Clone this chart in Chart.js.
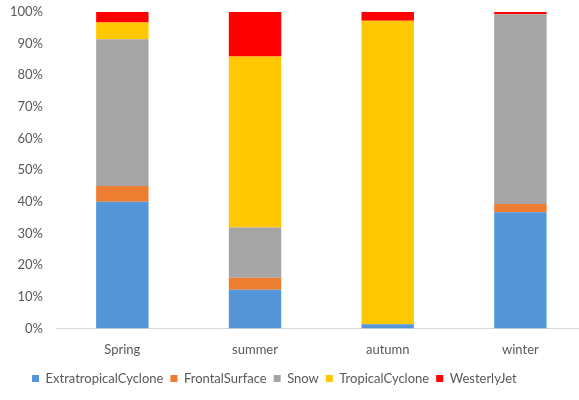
<!DOCTYPE html>
<html lang="en">
<head>
  <meta charset="UTF-8">
  <title>Seasonal share by weather type</title>
  <script src="https://cdn.jsdelivr.net/npm/chart.js"></script>
  <style>
    html, body {
      margin: 0;
      padding: 0;
      background: #ffffff;
      overflow: hidden;
    }
    .chart-container {
      width: 600px;
      height: 400px;
    }
  </style>
</head>
<body>
  <div class="chart-container">
    <canvas id="seasonChart"></canvas>
  </div>

  <script>
    const seasons = ['Spring', 'summer', 'autumn', 'winter'];

    // percent of each season
    const extratropicalCyclone = [40.0, 12.2, 1.3, 36.7];
    const frontalSurface       = [5.0, 3.8, 0, 2.6];
    const snow                 = [46.4, 15.9, 0, 60.0];
    const tropicalCyclone      = [5.3, 54.0, 95.9, 0];
    const westerlyJet          = [3.3, 14.1, 2.8, 0.7];

    const yTicks = [0, 10, 20, 30, 40, 50, 60, 70, 80, 90, 100];

    function series(label, values, color) {
      return {
        label: label,
        data: values.map((v, i) => ({ x: i, y: v })),
        backgroundColor: color,
        borderWidth: 0,
        barPercentage: 1,
        categoryPercentage: 0.395
      };
    }

    // nudge the legend row to the right, like the original
    const legendShift = {
      id: 'legendShift',
      afterLayout(chart) {
        chart.legend.left += 15;
      }
    };

    Chart.defaults.font.family = 'Lato, "Open Sans", sans-serif';
    Chart.defaults.color = '#595959';

    new Chart(document.getElementById('seasonChart'), {
      type: 'bar',
      data: {
        datasets: [
          series('ExtratropicalCyclone', extratropicalCyclone, '#5596d8'),
          series('FrontalSurface', frontalSurface, '#ed7d31'),
          series('Snow', snow, '#a5a5a5'),
          series('TropicalCyclone', tropicalCyclone, '#ffc800'),
          series('WesterlyJet', westerlyJet, '#ff0000')
        ]
      },
      plugins: [legendShift],
      options: {
        responsive: true,
        maintainAspectRatio: false,
        animation: false,
        layout: { padding: { left: 10, top: 12, right: 0, bottom: 5 } },
        plugins: {
          legend: {
            position: 'bottom',
            align: 'start',
            labels: {
              usePointStyle: true,
              pointStyle: 'rect',
              boxWidth: 7,
              boxHeight: 7,
              padding: 7,
              font: { size: 13 }
            }
          },
          tooltip: { enabled: false }
        },
        scales: {
          x: {
            type: 'linear',
            stacked: true,
            offset: false,
            min: -0.5,
            max: 3.6,
            grid: { display: false, drawTicks: false },
            border: { color: '#d9d9d9' },
            afterFit: axis => { axis.height -= 7; },
            ticks: {
              stepSize: 1,
              includeBounds: false,
              padding: 14,
              font: { size: 13 },
              callback: v => Number.isInteger(v) ? seasons[v] : ''
            }
          },
          y: {
            stacked: true,
            min: 0,
            max: 100,
            grid: { display: false, drawTicks: false },
            border: { display: false },
            afterBuildTicks: axis => { axis.ticks = yTicks.map(v => ({ value: v })); },
            afterFit: axis => {
              axis.width = 46;
              axis.paddingTop = 0;
              axis.paddingBottom = 0;
            },
            ticks: {
              padding: 13,
              font: { size: 13 },
              callback: v => v + '%'
            }
          }
        }
      }
    });
  </script>
</body>
</html>
